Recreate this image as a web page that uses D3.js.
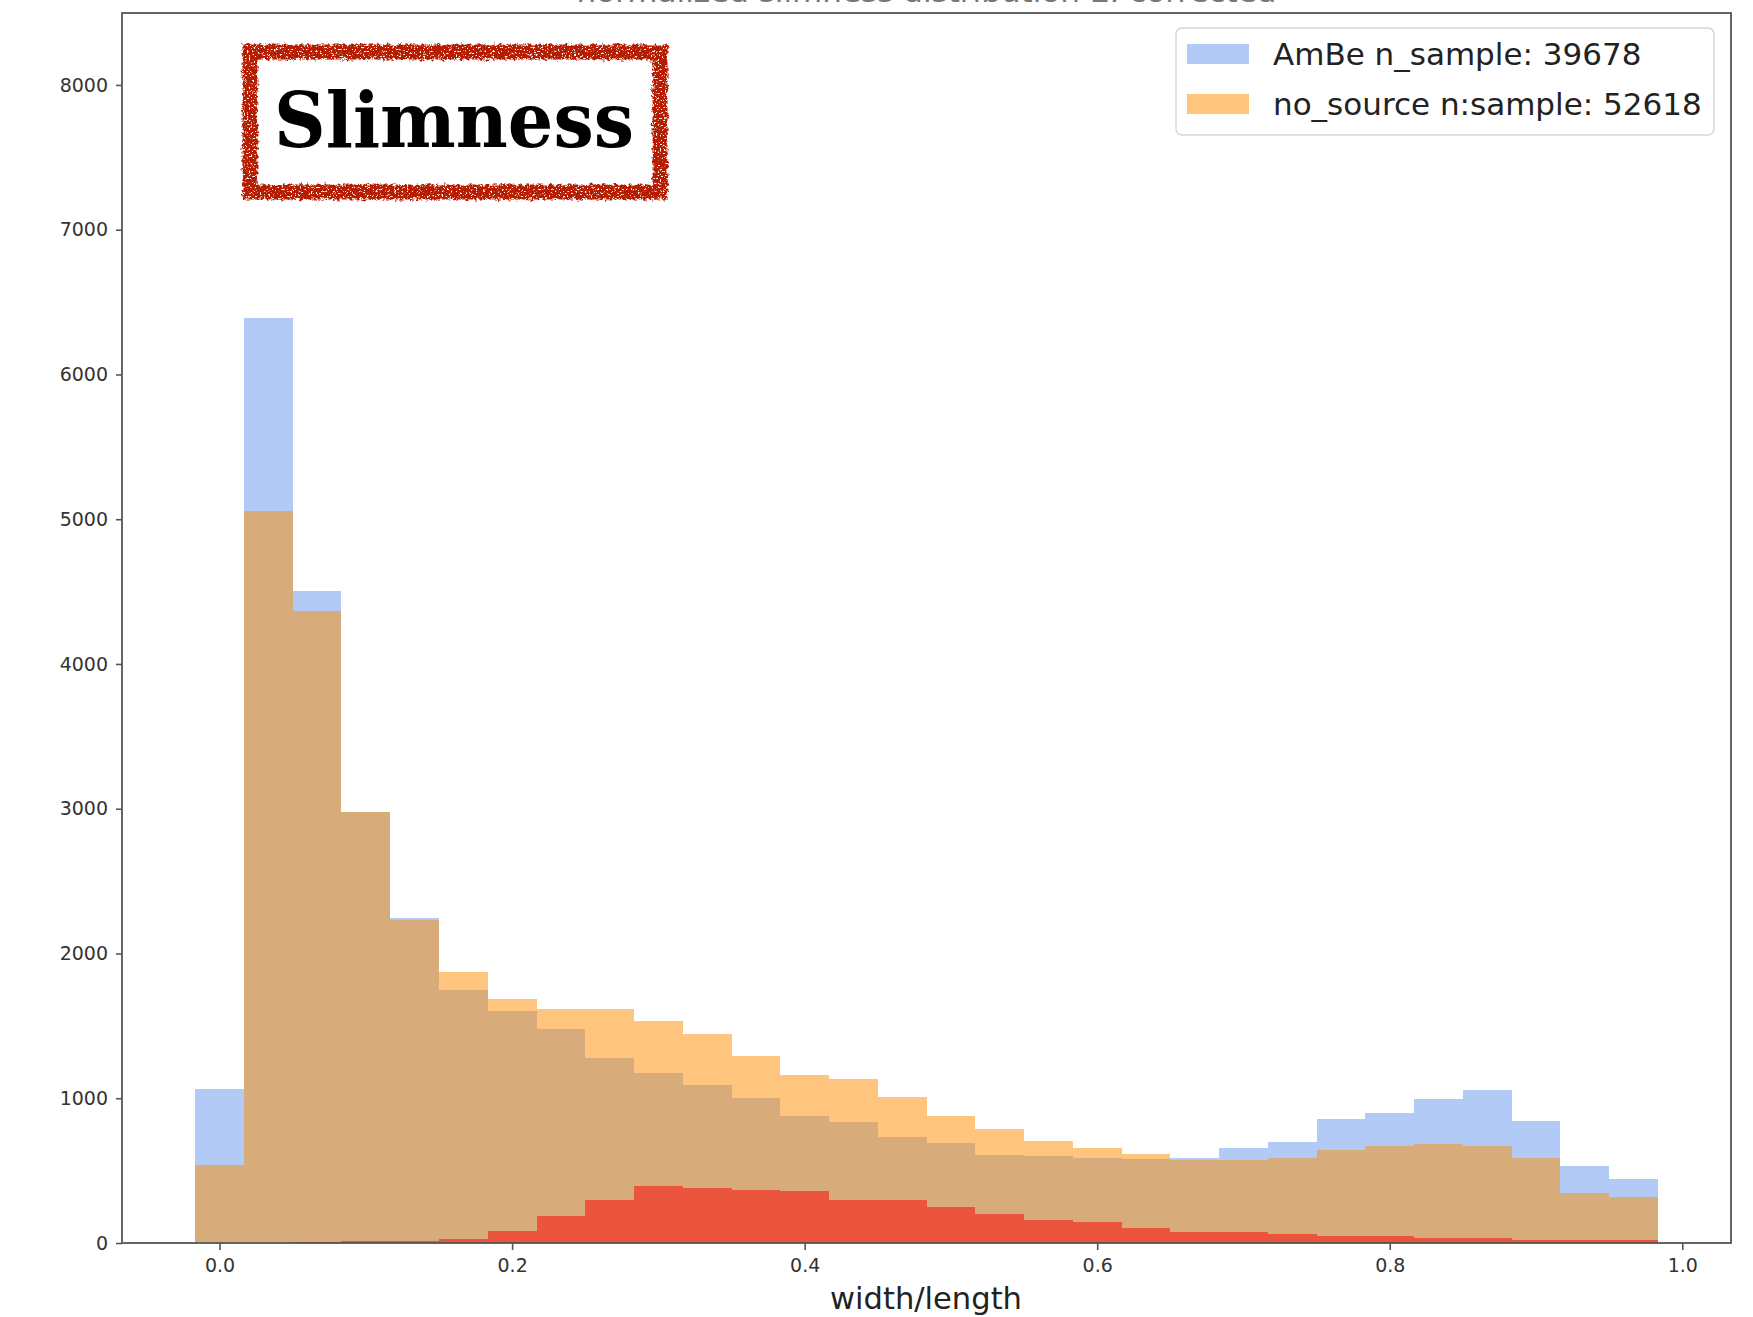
<!DOCTYPE html>
<html><head><meta charset="utf-8">
<script src="https://cdn.jsdelivr.net/npm/d3@7"></script>
<style>body{margin:0;background:#fff} svg{display:block}</style>
</head><body><svg id="chart" width="1753" height="1317"></svg>
<script>
// ---- data ----
const binEdges = [-0.0167, 0.0167, 0.05, 0.0833, 0.1167, 0.15, 0.1833, 0.2167, 0.25, 0.2833, 0.3167,
  0.35, 0.3833, 0.4167, 0.45, 0.4833, 0.5167, 0.55, 0.5833, 0.6167, 0.65,
  0.6833, 0.7167, 0.75, 0.7833, 0.8167, 0.85, 0.8833, 0.9167, 0.95, 0.9833];
const ambeValues = [1063, 6388, 4506, 2977, 2243, 1747, 1604, 1477, 1276, 1177,
  1092, 1005, 878, 839, 735, 694, 608, 599, 585, 581,
  585, 657, 700, 857, 899, 998, 1055, 841, 530, 445];
const noSourceValues = [537, 5060, 4365, 2977, 2230, 1873, 1689, 1618, 1618, 1532,
  1447, 1293, 1164, 1134, 1007, 878, 790, 707, 657, 615,
  571, 571, 585, 643, 673, 684, 673, 585, 346, 318];
const thirdValues = [0, 0, 10, 12, 14, 25, 85, 185, 298, 396,
  382, 368, 356, 298, 300, 249, 203, 161, 147, 101,
  78, 78, 62, 46, 46, 32, 32, 18, 18, 18];
const xTickValues = [0.0, 0.2, 0.4, 0.6, 0.8, 1.0];
const yTickValues = [0, 1000, 2000, 3000, 4000, 5000, 6000, 7000, 8000];
const seriesNames = ["AmBe n_sample: 39678", "no_source n:sample: 52618"];
const titleText = "normalized slimness distribution E. corrected";
const xLabelText = "width/length";
const stampText = "Slimness";

// ---- layout ----
const svg = d3.select("#chart");
const L = 122, R = 1731, T = 13, B = 1243;
const x = d3.scaleLinear().domain([-0.0667, 1.0333]).range([L, R]);
const y = d3.scaleLinear().domain([0, 8497]).range([B, T]);
const font = "'DejaVu Sans', sans-serif";

svg.append("rect").attr("width", 1753).attr("height", 1317).attr("fill", "#fff");

// title (mostly clipped at top of image, as in the original)
svg.append("text").attr("x", (L + R) / 2).attr("y", 2)
  .attr("text-anchor", "middle").attr("font-family", font).attr("font-size", 27)
  .attr("fill", "#777").attr("textLength", 700).attr("lengthAdjust", "spacingAndGlyphs")
  .text(titleText);

// histograms
function stepArea(vals) {
  const pts = binEdges.map((e, i) => ({ e, v: vals[Math.min(i, vals.length - 1)] }));
  return d3.area().x(d => x(d.e)).y0(y(0)).y1(d => y(d.v)).curve(d3.curveStepAfter)(pts);
}
const series = [
  { vals: ambeValues, color: "cornflowerblue" },
  { vals: noSourceValues, color: "darkorange" },
  { vals: thirdValues, color: "red" }
];
series.forEach(s => {
  svg.append("path").attr("d", stepArea(s.vals)).attr("fill", s.color)
    .attr("fill-opacity", 0.5).attr("shape-rendering", "crispEdges");
});

// axes
const axisColor = "#555";
const gx = svg.append("g").attr("transform", `translate(0,${B})`)
  .call(d3.axisBottom(x).tickValues(xTickValues).tickFormat(d3.format(".1f")).tickSize(7).tickPadding(9));
const gy = svg.append("g").attr("transform", `translate(${L},0)`)
  .call(d3.axisLeft(y).tickValues(yTickValues).tickFormat(d3.format("d")).tickSize(6).tickPadding(8));
[gx, gy].forEach(g => {
  g.select(".domain").remove();
  g.selectAll(".tick line").attr("stroke", axisColor).attr("stroke-width", 1.6);
  g.selectAll(".tick text").attr("font-family", font).attr("font-size", 19).attr("fill", "#333");
});
svg.append("rect").attr("x", L).attr("y", T).attr("width", R - L).attr("height", B - T)
  .attr("fill", "none").attr("stroke", axisColor).attr("stroke-width", 1.8);

// x label
svg.append("text").attr("x", 926).attr("y", 1309).attr("text-anchor", "middle")
  .attr("font-family", font).attr("font-size", 31).attr("fill", "#222")
  .attr("textLength", 192).attr("lengthAdjust", "spacingAndGlyphs").text(xLabelText);

// legend
const lg = svg.append("g");
lg.append("rect").attr("x", 1176).attr("y", 28).attr("width", 538).attr("height", 107)
  .attr("rx", 6).attr("fill", "#fff").attr("fill-opacity", 0.8)
  .attr("stroke", "#d6d6d6").attr("stroke-width", 1.5);
const legendColors = ["cornflowerblue", "darkorange"];
seriesNames.forEach((name, i) => {
  const cy = 54 + i * 50;
  lg.append("rect").attr("x", 1187).attr("y", cy - 10).attr("width", 62).attr("height", 20)
    .attr("fill", legendColors[i]).attr("fill-opacity", 0.5);
  lg.append("text").attr("x", 1273).attr("y", cy + 11).attr("font-family", font)
    .attr("font-size", 31).attr("fill", "#222").text(name);
});

// stamp
const defs = svg.append("defs");
const f = defs.append("filter").attr("id", "grunge")
  .attr("x", "-5%").attr("y", "-10%").attr("width", "110%").attr("height", "120%");
f.append("feTurbulence").attr("type", "fractalNoise").attr("baseFrequency", 0.3)
  .attr("numOctaves", 3).attr("seed", 3).attr("result", "noise");
f.append("feDisplacementMap").attr("in", "SourceGraphic").attr("in2", "noise")
  .attr("scale", 7).attr("xChannelSelector", "R").attr("yChannelSelector", "G").attr("result", "disp");
f.append("feTurbulence").attr("type", "fractalNoise").attr("baseFrequency", 0.55)
  .attr("numOctaves", 2).attr("seed", 11).attr("result", "n2");
f.append("feColorMatrix").attr("in", "n2").attr("type", "matrix")
  .attr("values", "0 0 0 0 0  0 0 0 0 0  0 0 0 0 0  9 0 0 0 -2.6").attr("result", "holes");
f.append("feComposite").attr("in", "disp").attr("in2", "holes").attr("operator", "in");

const st = svg.append("g");
st.append("rect").attr("x", 250).attr("y", 52).attr("width", 410).attr("height", 140)
  .attr("fill", "#fff").attr("stroke", "none");
st.append("rect").attr("x", 250).attr("y", 52).attr("width", 410).attr("height", 140)
  .attr("fill", "none").attr("stroke", "#b61a06").attr("stroke-width", 15)
  .attr("filter", "url(#grunge)");
st.append("text").attr("x", 454).attr("y", 147).attr("text-anchor", "middle")
  .attr("font-family", "'DejaVu Serif', serif").attr("font-weight", "bold")
  .attr("font-size", 76).attr("fill", "#000")
  .attr("textLength", 360).attr("lengthAdjust", "spacingAndGlyphs").text(stampText);
</script>
</body></html>
